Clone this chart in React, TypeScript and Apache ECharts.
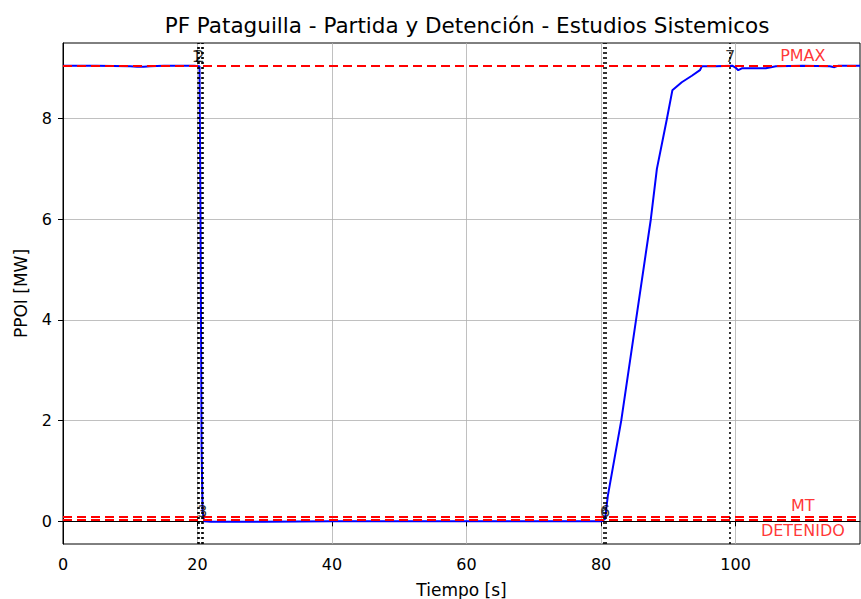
import React, { useEffect, useRef } from "react";
import * as echarts from "echarts";

const titleText = "PF Pataguilla - Partida y Detención - Estudios Sistemicos";
const xTicks = [0, 20, 40, 60, 80, 100];
const yTicks = [0, 2, 4, 6, 8];

const time = [0, 5, 10, 11, 12, 13, 15, 19.5, 20.3, 20.45, 20.6, 20.75, 21, 22, 30, 40, 50, 60, 70, 80, 80.6, 81, 83, 85.2, 87.4, 88.3, 89.8, 90.6, 92, 93.5, 94.7, 95, 97, 99.5, 100.1, 100.4, 101, 104.5, 106, 110, 114, 114.7, 115.3, 118.5];
const ppoi = [9.05, 9.05, 9.04, 9.03, 9.03, 9.04, 9.05, 9.05, 9.04, 6.0, 1.5, 0.2, 0.0, -0.01, -0.01, 0.0, 0.0, 0.0, 0.0, 0.0, 0.05, 0.5, 2.0, 4.0, 6.0, 7.0, 8.0, 8.56, 8.72, 8.85, 8.96, 9.04, 9.04, 9.05, 9.0, 8.96, 9.0, 9.0, 9.04, 9.05, 9.04, 9.02, 9.05, 9.05];

const limitNames = ["PMAX", "MT", "DETENIDO"];
const limitValues = [9.05, 0.1, 0.03];
const limitLabelX = 110;

const eventLines = [20.0, 20.2, 20.6, 20.8, 80.4, 80.7, 99.2];
const eventLabels = ["1", "2", "3", "6", "7"];
const eventLabelX = [19.9, 20.3, 20.7, 80.6, 99.2];
const eventLabelY = [9.05, 9.05, 0.0, 0.0, 9.05];

const FONT = "DejaVu Sans";

export default function App() {
  const ref = useRef<HTMLDivElement>(null);
  useEffect(() => {
    document.body.style.margin = "0";
    const chart = echarts.init(ref.current!, null, { renderer: "svg" });
    const lineData = time.map((t, i) => [t, ppoi[i]]);
    chart.setOption({
      animation: false,
      backgroundColor: "#ffffff",
      title: {
        text: titleText,
        left: 462,
        top: 9,
        textAlign: "center",
        textStyle: { fontFamily: FONT, fontSize: 21.5, fontWeight: "normal", color: "#000" },
      },
      grid: {
        left: 63,
        right: 1,
        top: 43,
        bottom: 55,
        outerBoundsMode: "none",
        containLabel: false,
        show: true,
        borderColor: "#000",
        borderWidth: 1,
        backgroundColor: "transparent",
      },
      xAxis: {
        type: "value",
        min: 0,
        max: 118.5,
        name: "Tiempo [s]",
        nameLocation: "middle",
        nameGap: 37,
        nameTextStyle: { fontFamily: FONT, fontSize: 17, color: "#000" },
        axisLine: { show: true, lineStyle: { color: "#000", width: 1 } },
        axisTick: { show: true, length: 5, inside: false, customValues: xTicks, lineStyle: { color: "#000" } },
        axisLabel: { customValues: xTicks, fontFamily: FONT, fontSize: 16, color: "#000", margin: 12 },
        splitLine: { show: true, customValues: xTicks, lineStyle: { color: "#b0b0b0", width: 0.8 } },
      },
      yAxis: {
        type: "value",
        min: -0.45,
        max: 9.5,
        name: "PPOI [MW]",
        nameLocation: "middle",
        nameGap: 34,
        nameTextStyle: { fontFamily: FONT, fontSize: 17, color: "#000" },
        axisLine: { show: true, lineStyle: { color: "#000", width: 1 } },
        axisTick: { show: true, length: 5, inside: false, customValues: yTicks, lineStyle: { color: "#000" } },
        axisLabel: { customValues: yTicks, fontFamily: FONT, fontSize: 16, color: "#000", margin: 11 },
        splitLine: { show: true, customValues: yTicks, lineStyle: { color: "#b0b0b0", width: 0.8 } },
      },
      series: [
        {
          type: "line",
          name: "PPOI",
          data: lineData,
          showSymbol: false,
          symbol: "none",
          lineStyle: { color: "#0000ff", width: 2 },
          z: 3,
          markLine: {
            silent: true,
            symbol: ["none", "none"],
            label: { show: false },
            data: [
              ...limitValues.map((v) => ({
                yAxis: v,
                lineStyle: { color: "#ff0000", type: [9, 5], width: 1.8 },
              })),
              ...eventLines.map((v) => ({
                xAxis: v,
                lineStyle: { color: "#000", type: [2, 3], width: 1.6 },
              })),
            ],
          },
        },
        {
          type: "scatter",
          name: "limits",
          symbolSize: 1,
          silent: true,
          itemStyle: { color: "rgba(0,0,0,0)" },
          data: limitNames.map((n, i) => ({
            name: n,
            value: [limitLabelX, limitValues[i]],
            label: {
              show: true,
              position: i === 2 ? "bottom" : "top",
              distance: 2,
              formatter: n,
              color: "#ff0000",
              fontFamily: FONT,
              fontSize: 16,
            },
          })),
          z: 4,
        },
        {
          type: "scatter",
          name: "events",
          symbolSize: 1,
          silent: true,
          itemStyle: { color: "rgba(0,0,0,0)" },
          data: eventLabels.map((n, i) => ({
            name: n,
            value: [eventLabelX[i], eventLabelY[i]],
            label: {
              show: true,
              position: "top",
              distance: 1,
              formatter: n,
              color: "#000",
              fontFamily: FONT,
              fontSize: 16,
            },
          })),
          z: 5,
        },
      ],
    });
    return () => chart.dispose();
  }, []);
  return <div ref={ref} style={{ width: 861, height: 599 }} />;
}
